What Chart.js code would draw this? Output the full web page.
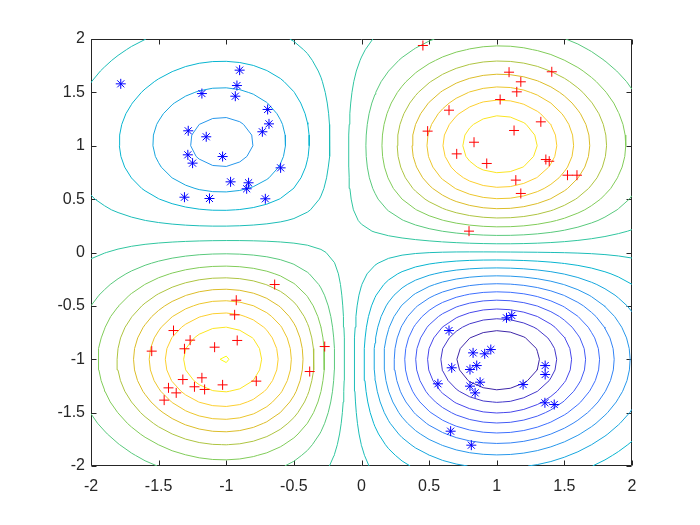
<!DOCTYPE html>
<html><head><meta charset="utf-8">
<script src="https://cdn.jsdelivr.net/npm/chart.js@4/dist/chart.umd.min.js"></script>
<style>html,body{margin:0;padding:0;background:#fff}#wrap{width:700px;height:525px}</style>
</head><body><div id="wrap"><canvas id="c" width="700" height="525"></canvas></div>
<script>
// ---- axis ticks ----
const xTickValues = [-2,-1.5,-1,-0.5,0,0.5,1,1.5,2];
const xTickLabels = ['-2','-1.5','-1','-0.5','0','0.5','1','1.5','2'];
const yTickValues = [-2,-1.5,-1,-0.5,0,0.5,1,1.5,2];
const yTickLabels = ['-2','-1.5','-1','-0.5','0','0.5','1','1.5','2'];

// ---- contour levels ----
const levels = [-0.95,-0.85,-0.75,-0.65,-0.55,-0.45,-0.35,-0.25,-0.15,-0.05,0.05,0.15,0.25,0.35,0.45,0.55,0.65,0.75,0.85];

// ---- score surface: four lobes ----
const lobeX   = [1.02, -1.0, 1.0, -1.02];
const lobeY   = [1.0, -1.0, -1.0, 1.02];
const lobeAmp = [0.84, 0.865, -1.07, -0.39];
const lobeSx  = [0.6, 0.6, 0.66, 0.56];
const lobeSy  = [0.6, 0.6, 0.6, 0.56];
const gridStep = 0.1;

// ---- class 1 (red +) ----
const redX = [0.454,1.091,1.407,1.178,1.148,1.025,0.647,0.489,1.326,1.128,0.832,0.704,0.926,1.363,1.388,1.141,1.178,1.523,1.593,0.795,
  -0.642,-0.926,-0.938,-1.390,-1.267,-1.551,-1.309,-1.086,-0.919,-0.272,-0.383,-1.321,-1.180,-1.427,-1.235,-1.160,-1.370,-1.459,-1.027,-0.778];
const redY = [1.939,1.689,1.693,1.599,1.505,1.433,1.333,1.137,1.224,1.143,1.033,0.924,0.834,0.871,0.855,0.678,0.553,0.724,0.724,0.200,
  -0.300,-0.447,-0.584,-0.731,-0.821,-0.924,-0.902,-0.887,-0.824,-0.881,-1.115,-1.190,-1.174,-1.268,-1.258,-1.283,-1.315,-1.383,-1.240,-1.205];
// ---- class 2 (blue *) ----
const blueX = [-1.780,-0.901,-0.921,-1.180,-0.933,-0.694,-0.684,-0.733,-1.281,-1.148,-1.027,-1.284,-1.249,-0.598,-0.968,-0.835,-0.849,-1.309,-1.124,-0.711,
  0.647,1.072,1.111,0.825,0.911,0.956,0.667,0.802,0.852,0.565,0.802,0.877,0.840,1.195,1.358,1.358,1.356,1.425,0.659,0.812];
const blueY = [1.580,1.708,1.564,1.489,1.464,1.340,1.205,1.131,1.140,1.084,0.899,0.915,0.837,0.793,0.662,0.653,0.597,0.518,0.506,0.503,
  -0.731,-0.612,-0.590,-0.940,-0.949,-0.909,-1.080,-1.096,-1.059,-1.230,-1.252,-1.215,-1.315,-1.237,-1.059,-1.143,-1.408,-1.424,-1.674,-1.805];

// ---- parula-like colour map ----
const parulaStops = [
  [0.2422,0.1504,0.6603],[0.2803,0.2782,0.9221],[0.2440,0.4358,0.9988],[0.1540,0.5902,0.9218],
  [0.0297,0.7082,0.8163],[0.1938,0.7758,0.6251],[0.5044,0.7993,0.3480],[0.8634,0.7406,0.1596],
  [0.9892,0.8136,0.1885],[0.9769,0.9839,0.0805]];
function parula(t){
  t = Math.max(0, Math.min(1, t));
  const f = t*(parulaStops.length-1), i = Math.min(parulaStops.length-2, Math.floor(f)), u = f-i;
  const a = parulaStops[i], b = parulaStops[i+1];
  const c = a.map((v,k)=>Math.round(255*(v+(b[k]-v)*u)));
  return `rgb(${c[0]},${c[1]},${c[2]})`;
}

function field(x,y){
  let s = 0;
  for (let k=0;k<lobeAmp.length;k++){
    const dx=(x-lobeX[k])/lobeSx[k], dy=(y-lobeY[k])/lobeSy[k];
    s += lobeAmp[k]*Math.exp(-0.5*(dx*dx+dy*dy));
  }
  return s;
}
const N = Math.round(4/gridStep)+1;
const gv = []; for (let i=0;i<N;i++) gv.push(-2+i*gridStep);
const Z = gv.map(x=>gv.map(y=>field(x,y)));

function contourLines(L){
  const segs = [];
  const ep = (key,x1,y1,z1,x2,y2,z2)=>{const t=(L-z1)/(z2-z1);return {k:key,x:x1+t*(x2-x1),y:y1+t*(y2-y1)};};
  for (let i=0;i<N-1;i++) for (let j=0;j<N-1;j++){
    const x0=gv[i],x1=gv[i+1],y0=gv[j],y1=gv[j+1];
    const zbl=Z[i][j], zbr=Z[i+1][j], ztr=Z[i+1][j+1], ztl=Z[i][j+1];
    const A=[zbl>=L,zbr>=L,ztr>=L,ztl>=L];
    const E=[];
    E[0] = A[0]!==A[1] ? ep('h'+i+'_'+j,x0,y0,zbl,x1,y0,zbr) : null;
    E[1] = A[1]!==A[2] ? ep('v'+(i+1)+'_'+j,x1,y0,zbr,x1,y1,ztr) : null;
    E[2] = A[3]!==A[2] ? ep('h'+i+'_'+(j+1),x0,y1,ztl,x1,y1,ztr) : null;
    E[3] = A[0]!==A[3] ? ep('v'+i+'_'+j,x0,y0,zbl,x0,y1,ztl) : null;
    const cr = E.filter(e=>e);
    if (cr.length===2) segs.push([cr[0],cr[1]]);
    else if (cr.length===4){
      const c=(zbl+zbr+ztr+ztl)/4>=L;
      if (A[0]!==c){ segs.push([E[3],E[0]]); segs.push([E[1],E[2]]); }
      else { segs.push([E[0],E[1]]); segs.push([E[2],E[3]]); }
    }
  }
  const adj = new Map();
  segs.forEach((s,idx)=>{for(const p of s){if(!adj.has(p.k))adj.set(p.k,[]);adj.get(p.k).push(idx);}});
  const used = new Array(segs.length).fill(false);
  const lines = [];
  for (let idx=0;idx<segs.length;idx++){
    if (used[idx]) continue;
    used[idx]=true;
    const line=[segs[idx][0],segs[idx][1]];
    let cur=segs[idx][1].k;
    for(;;){const n=(adj.get(cur)||[]).find(q=>!used[q]);if(n===undefined)break;used[n]=true;const s=segs[n];const nx=s[0].k===cur?s[1]:s[0];line.push(nx);cur=nx.k;}
    cur=segs[idx][0].k;
    for(;;){const n=(adj.get(cur)||[]).find(q=>!used[q]);if(n===undefined)break;used[n]=true;const s=segs[n];const nx=s[0].k===cur?s[1]:s[0];line.unshift(nx);cur=nx.k;}
    lines.push(line);
  }
  return lines;
}

const lmin=Math.min(...levels), lmax=Math.max(...levels);
const contourSets = levels.map(L=>{
  const data=[];
  for (const line of contourLines(L)){ for(const p of line) data.push({x:p.x,y:p.y}); data.push({x:NaN,y:NaN}); }
  return {data, showLine:true, borderColor:parula((L-lmin)/(lmax-lmin)), borderWidth:1,
    pointRadius:0, pointHoverRadius:0, tension:0, spanGaps:false, order:1};
});
const redSet = {data:redX.map((x,i)=>({x,y:redY[i]})), showLine:false, pointStyle:'cross',
  pointRadius:5, pointHoverRadius:5, borderColor:'#ff0000', backgroundColor:'#ff0000', pointBorderWidth:1, order:0};
const blueSet = {data:blueX.map((x,i)=>({x,y:blueY[i]})), showLine:false, pointStyle:'star',
  pointRadius:5, pointHoverRadius:5, borderColor:'#0000ff', backgroundColor:'#0000ff', pointBorderWidth:1, order:0};

const boxPlugin = {
  id:'box',
  beforeDatasetsDraw(chart){
    const {ctx, chartArea:a, scales:{x,y}} = chart;
    ctx.save();
    ctx.strokeStyle='#262626'; ctx.lineWidth=1;
    const L=Math.round(a.left)+0.5, R=Math.round(a.right)-0.5, T=Math.round(a.top)+0.5, B=Math.round(a.bottom)-0.5;
    ctx.beginPath();
    ctx.rect(L,T,R-L,B-T);
    const tl=5;
    for (const t of x.ticks){ const px=Math.round(x.getPixelForValue(t.value))+0.5;
      ctx.moveTo(px,B); ctx.lineTo(px,B-tl); ctx.moveTo(px,T); ctx.lineTo(px,T+tl); }
    for (const t of y.ticks){ const py=Math.round(y.getPixelForValue(t.value))+0.5;
      ctx.moveTo(L,py); ctx.lineTo(L+tl,py); ctx.moveTo(R,py); ctx.lineTo(R-tl,py); }
    ctx.stroke();
    ctx.restore();
  }
};

const tickFont = {family:'"Liberation Sans", Arial, Helvetica, sans-serif', size:16};
new Chart(document.getElementById('c'), {
  type:'scatter',
  data:{datasets:[redSet, blueSet, ...contourSets]},
  options:{
    responsive:false, animation:false, devicePixelRatio:1,
    layout:{padding:{top:39,right:68,bottom:0,left:0}},
    plugins:{legend:{display:false}, tooltip:{enabled:false}},
    events:[],
    scales:{
      x:{type:'linear', min:-2, max:2,
        afterBuildTicks:s=>{s.ticks=xTickValues.map(v=>({value:v}));},
        afterFit:s=>{s.height=59;},
        grid:{display:false, drawTicks:false}, border:{display:false},
        ticks:{padding:11, color:'#262626', font:tickFont, maxRotation:0, autoSkip:false,
          callback:(v,i)=>xTickLabels[i]}},
      y:{type:'linear', min:-2, max:2,
        afterBuildTicks:s=>{s.ticks=yTickValues.map(v=>({value:v}));},
        afterFit:s=>{s.width=91;},
        grid:{display:false, drawTicks:false}, border:{display:false},
        ticks:{padding:6, color:'#262626', font:tickFont, autoSkip:false,
          callback:(v,i)=>yTickLabels[i]}}
    }
  },
  plugins:[boxPlugin]
});
</script></body></html>
